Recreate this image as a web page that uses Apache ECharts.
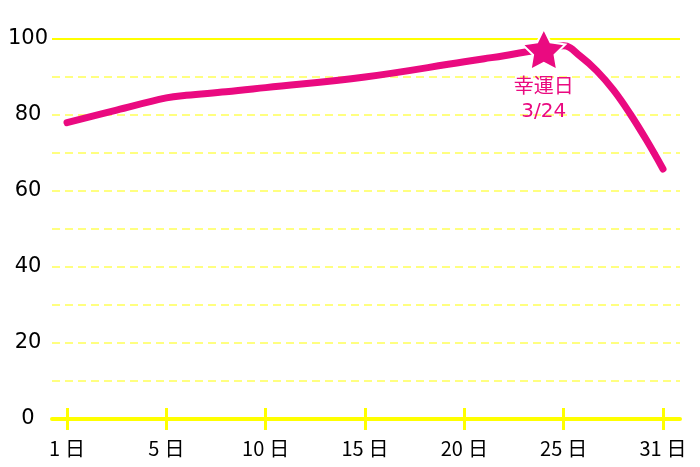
<!DOCTYPE html>
<html><head><meta charset="utf-8">
<script src="https://cdn.jsdelivr.net/npm/echarts@6/dist/echarts.min.js"></script>
<style>html,body{margin:0;padding:0;background:#fff}#c{width:700px;height:467px}</style>
</head><body><div id="c"></div>
<script>
// ---- data ----
const tickDays = [1, 5, 10, 15, 20, 25, 31];
const tickLabels = ['1日', '5日', '10日', '15日', '20日', '25日', '31日'];
const days = [1, 3, 5, 6, 8, 10, 15, 20, 21, 22, 23, 24, 25, 26, 27, 28, 29, 30, 31];
const values = [78, 81.3, 84.5, 85.2, 86.1, 87.2, 90, 94, 94.8, 95.6, 96.5, 97.3, 98.2, 95.5, 91.6, 86.6, 80.4, 73.4, 65.8];
const luckyDay = 24;
const luckyValue = 97.3;
const luckyLabel = ['幸運日', '3/24'];
const yTicks = [0, 20, 40, 60, 80, 100];

// ---- rendering ----
const PINK = '#ea0a80';
const YEL = '#ffff00';
const FONT = '"DejaVu Sans", "Noto Sans CJK JP", sans-serif';
const CJK = '"Noto Sans CJK JP", sans-serif';
const tickIdx = tickDays.map((d, i) => i);
function axisPos(d) {
  for (let i = 0; i < tickDays.length - 1; i++) {
    if (d <= tickDays[i + 1]) return i + (d - tickDays[i]) / (tickDays[i + 1] - tickDays[i]);
  }
  return tickDays.length - 1;
}
const STAR = 'path://M50,0 L64.69,29.77 L97.55,34.55 L73.78,57.73 L79.39,90.45 L50,75 L20.61,90.45 L26.22,57.73 L2.45,34.55 L35.31,29.77 Z';

const chart = echarts.init(document.getElementById('c'), null, {renderer: 'canvas'});
const xMin = -0.151, xMax = 6.171;
chart.setOption({
  animation: false,
  backgroundColor: '#fff',
  grid: {left: 52, right: 20, top: 39, bottom: 48},
  xAxis: [{
    type: 'value', min: xMin, max: xMax, position: 'bottom',
    axisLine: {show: true, onZero: false, lineStyle: {color: YEL, width: 4}},
    axisTick: {show: true, customValues: tickIdx, length: 11, lineStyle: {color: YEL, width: 3}},
    axisLabel: {
      customValues: tickIdx, margin: 19,
      formatter: (v) => {
        const t = tickLabels[Math.round(v)] || '';
        return '{n|' + t.slice(0, -1) + '}{d|' + t.slice(-1) + '}';
      },
      rich: {
        n: {fontSize: 20, color: '#000', fontFamily: CJK},
        d: {fontSize: 20, color: '#000', fontFamily: CJK, padding: [0, 0, 0, 5]}
      }
    },
    splitLine: {show: false}
  }, {
    type: 'value', min: xMin, max: xMax, position: 'bottom',
    axisLine: {show: false},
    axisTick: {show: true, inside: true, customValues: tickIdx, length: 11, lineStyle: {color: YEL, width: 3}},
    axisLabel: {show: false},
    splitLine: {show: false}
  }],
  yAxis: {
    type: 'value', min: 0, max: 100, interval: 10,
    axisLine: {show: false}, axisTick: {show: false},
    axisLabel: {
      formatter: (v) => yTicks.includes(v) ? String(v) : '',
      align: 'center', margin: 24, fontSize: 21, color: '#000', fontFamily: FONT
    },
    splitLine: {show: true, lineStyle: {color: '#ffff80', type: [8, 5], width: 2}}
  },
  series: [{
    type: 'line', xAxisIndex: 0,
    data: days.map((d, i) => [axisPos(d), values[i]]),
    smooth: 0.4, showSymbol: false, symbol: 'none',
    lineStyle: {color: PINK, width: 7, cap: 'round', join: 'round'},
    emphasis: {disabled: true},
    markLine: {
      silent: true, symbol: 'none', label: {show: false},
      lineStyle: {color: YEL, type: 'solid', width: 2},
      data: [{yAxis: 100}]
    },
    markPoint: {
      silent: true,
      data: [{coord: [axisPos(luckyDay), luckyValue]}],
      symbol: STAR, symbolSize: [43, 41],
      itemStyle: {color: PINK, borderColor: '#fff', borderWidth: 2},
      label: {
        show: true, position: 'bottom', distance: 5,
        formatter: luckyLabel.join('\n'),
        color: PINK, fontSize: 20, lineHeight: 24, fontFamily: FONT
      }
    }
  }]
});
</script>
</body></html>
